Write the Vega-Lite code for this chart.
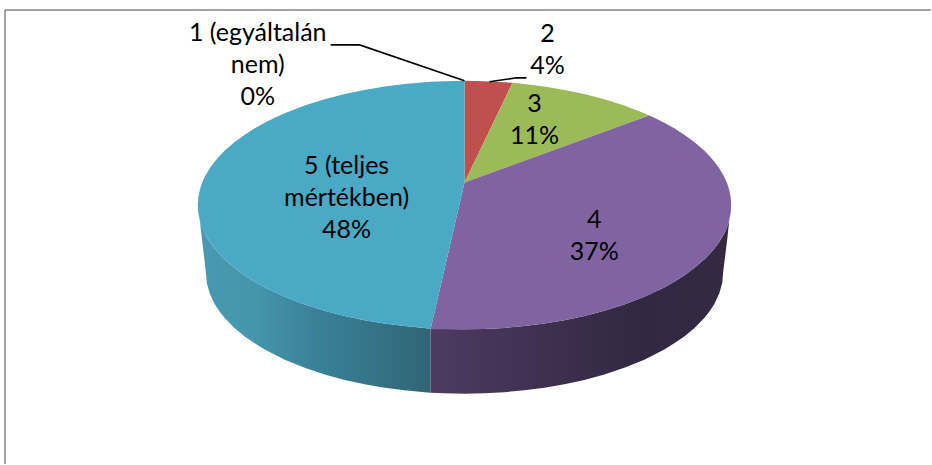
{"$schema":"https://vega.github.io/schema/vega-lite/v6.json","width":932,"height":465,"autosize":{"type":"fit","contains":"padding"},"padding":0,"background":"white","view":{"stroke":null},
"config":{"axis":{"disable":true},"legend":{"disable":true}},
"datasets":{
"top":[
{"slice":"2","px":465,"a":81,"b":183},{"slice":"2","px":485,"a":81.35,"b":141.3},{"slice":"2","px":505,"a":82.4,"b":99.7},{"slice":"2","px":513,"a":83,"b":83},
{"slice":"3","px":465,"a":183,"b":183},{"slice":"3","px":513,"a":83,"b":165.5},{"slice":"3","px":525,"a":84.2,"b":161.2},{"slice":"3","px":545,"a":86.7,"b":153.9},{"slice":"3","px":565,"a":90.1,"b":146.6},{"slice":"3","px":585,"a":94.3,"b":139.3},{"slice":"3","px":605,"a":99.5,"b":132},{"slice":"3","px":625,"a":105.8,"b":124.8},{"slice":"3","px":645,"a":113.5,"b":117.5},{"slice":"3","px":650,"a":115.7,"b":115.7},
{"slice":"4","px":431,"a":330,"b":330},{"slice":"4","px":465,"a":183,"b":330},{"slice":"4","px":485,"a":175.7,"b":329.65},{"slice":"4","px":505,"a":168.4,"b":328.6},{"slice":"4","px":525,"a":161.2,"b":326.8},{"slice":"4","px":545,"a":153.9,"b":324.3},{"slice":"4","px":565,"a":146.6,"b":320.9},{"slice":"4","px":585,"a":139.3,"b":316.7},{"slice":"4","px":605,"a":132,"b":311.5},{"slice":"4","px":625,"a":124.8,"b":305.2},{"slice":"4","px":645,"a":117.5,"b":297.5},{"slice":"4","px":650,"a":115.7,"b":295.7},{"slice":"4","px":655,"a":118,"b":293},{"slice":"4","px":665,"a":123,"b":288},{"slice":"4","px":675,"a":128.6,"b":282.4},{"slice":"4","px":685,"a":135,"b":276},{"slice":"4","px":695,"a":142.3,"b":268.7},{"slice":"4","px":705,"a":150.9,"b":260.1},{"slice":"4","px":710,"a":156,"b":255},{"slice":"4","px":715,"a":161.8,"b":249.2},{"slice":"4","px":720,"a":168.6,"b":242.4},{"slice":"4","px":725,"a":177.2,"b":233.8},{"slice":"4","px":728,"a":184,"b":227},{"slice":"4","px":730,"a":190.3,"b":220.7},{"slice":"4","px":731.5,"a":197.9,"b":213.1},{"slice":"4","px":732,"a":205.5,"b":205.5},
{"slice":"5 (teljes mértékben)","px":198,"a":205.5,"b":205.5},{"slice":"5 (teljes mértékben)","px":198.5,"a":197.9,"b":213.1},{"slice":"5 (teljes mértékben)","px":200,"a":190.3,"b":220.7},{"slice":"5 (teljes mértékben)","px":202,"a":184,"b":227},{"slice":"5 (teljes mértékben)","px":205,"a":177.2,"b":233.8},{"slice":"5 (teljes mértékben)","px":210,"a":168.6,"b":242.4},{"slice":"5 (teljes mértékben)","px":215,"a":161.8,"b":249.2},{"slice":"5 (teljes mértékben)","px":220,"a":156,"b":255},{"slice":"5 (teljes mértékben)","px":225,"a":150.9,"b":260.1},{"slice":"5 (teljes mértékben)","px":235,"a":142.3,"b":268.7},{"slice":"5 (teljes mértékben)","px":245,"a":135,"b":276},{"slice":"5 (teljes mértékben)","px":255,"a":128.6,"b":282.4},{"slice":"5 (teljes mértékben)","px":265,"a":123,"b":288},{"slice":"5 (teljes mértékben)","px":275,"a":118,"b":293},{"slice":"5 (teljes mértékben)","px":285,"a":113.5,"b":297.5},{"slice":"5 (teljes mértékben)","px":305,"a":105.8,"b":305.2},{"slice":"5 (teljes mértékben)","px":325,"a":99.5,"b":311.5},{"slice":"5 (teljes mértékben)","px":345,"a":94.3,"b":316.7},{"slice":"5 (teljes mértékben)","px":365,"a":90.1,"b":320.9},{"slice":"5 (teljes mértékben)","px":385,"a":86.7,"b":324.3},{"slice":"5 (teljes mértékben)","px":405,"a":84.2,"b":326.8},{"slice":"5 (teljes mértékben)","px":425,"a":82.4,"b":328.6},{"slice":"5 (teljes mértékben)","px":431,"a":82,"b":330},{"slice":"5 (teljes mértékben)","px":445,"a":81.35,"b":269.5},{"slice":"5 (teljes mértékben)","px":465,"a":81,"b":183}
],
"wall5":[{"px":199,"a":213,"b":213},{"px":200,"a":220.7,"b":221},{"px":202,"a":227,"b":238},{"px":204,"a":231,"b":255},{"px":206,"a":235.8,"b":272},{"px":207,"a":237.5,"b":283.7},{"px":210,"a":242.4,"b":294.2},{"px":215,"a":249.2,"b":304.8},{"px":220,"a":255,"b":312.4},{"px":225,"a":260.1,"b":318.7},{"px":235,"a":268.7,"b":328.9},{"px":245,"a":276,"b":337.1},{"px":255,"a":282.4,"b":344.1},{"px":265,"a":288,"b":350.2},{"px":285,"a":297.5,"b":360.4},{"px":305,"a":305.2,"b":368.5},{"px":325,"a":311.5,"b":375.2},{"px":345,"a":316.7,"b":380.7},{"px":365,"a":320.9,"b":385.1},{"px":385,"a":324.3,"b":388.6},{"px":405,"a":326.8,"b":391.2},{"px":425,"a":328.6,"b":393},{"px":431,"a":329.5,"b":393.5}],
"wall4":[{"px":431,"a":329.5,"b":393.5},{"px":445,"a":329.65,"b":394.1},{"px":465,"a":330,"b":394.5},{"px":485,"a":329.65,"b":394.1},{"px":505,"a":328.6,"b":393},{"px":525,"a":326.8,"b":391.2},{"px":545,"a":324.3,"b":388.6},{"px":565,"a":320.9,"b":385.1},{"px":585,"a":316.7,"b":380.7},{"px":605,"a":311.5,"b":375.2},{"px":625,"a":305.2,"b":368.5},{"px":645,"a":297.5,"b":360.4},{"px":665,"a":288,"b":350.2},{"px":675,"a":282.4,"b":344.1},{"px":685,"a":276,"b":337.1},{"px":695,"a":268.7,"b":328.9},{"px":705,"a":260.1,"b":318.7},{"px":710,"a":255,"b":312.4},{"px":715,"a":249.2,"b":304.8},{"px":720,"a":242.4,"b":294.2},{"px":723,"a":237.5,"b":283.7},{"px":724,"a":235.8,"b":272},{"px":726,"a":232,"b":256},{"px":728,"a":227,"b":240},{"px":730,"a":220.7,"b":221}],
"leaders":[{"leader":"1","order":1,"px":331,"py":45},{"leader":"1","order":2,"px":360,"py":45},{"leader":"1","order":3,"px":465,"py":81},{"leader":"2","order":1,"px":490,"py":82},{"leader":"2","order":2,"px":517,"py":78},{"leader":"2","order":3,"px":527,"py":78}],
"labels":[{"label":"1 (egyáltalán\nnem)\n0%","px":258,"py":41},{"label":"2\n4%","px":548,"py":42},{"label":"3\n11%","px":535,"py":112},{"label":"4\n37%","px":595,"py":228},{"label":"5 (teljes\nmértékben)\n48%","px":347,"py":174}],
"frame":[{"side":"left","px":5,"py":10,"py2":465},{"side":"top","px":5,"py":10,"px2":932}]
},
"layer":[
{"data":{"name":"frame"},"transform":[{"filter":"datum.side==='left'"}],"mark":{"type":"rule","stroke":"#868686","strokeWidth":1.5},"encoding":{"x":{"field":"px","type":"quantitative","scale":{"domain":[0,932],"nice":false,"zero":false}},"y":{"field":"py","type":"quantitative","scale":{"domain":[465,0],"nice":false,"zero":false}},"y2":{"field":"py2"}}},
{"data":{"name":"frame"},"transform":[{"filter":"datum.side==='top'"}],"mark":{"type":"rule","stroke":"#868686","strokeWidth":1.5},"encoding":{"x":{"field":"px","type":"quantitative"},"x2":{"field":"px2"},"y":{"field":"py","type":"quantitative"}}},
{"data":{"name":"wall5"},"mark":{"type":"area","color":{"gradient":"linear","x1":0,"x2":1,"y1":0,"y2":0,"stops":[{"offset":0,"color":"#4899b1"},{"offset":0.25,"color":"#4595ac"},{"offset":0.5,"color":"#3a8198"},{"offset":1,"color":"#2f6676"}]}},"encoding":{"x":{"field":"px","type":"quantitative"},"y":{"field":"a","type":"quantitative"},"y2":{"field":"b"}}},
{"data":{"name":"wall4"},"mark":{"type":"area","color":{"gradient":"linear","x1":0,"x2":1,"y1":0,"y2":0,"stops":[{"offset":0,"color":"#4d3b62"},{"offset":0.4,"color":"#3e2f4f"},{"offset":0.7,"color":"#322841"},{"offset":1,"color":"#332a42"}]}},"encoding":{"x":{"field":"px","type":"quantitative"},"y":{"field":"a","type":"quantitative"},"y2":{"field":"b"}}},
{"data":{"name":"top"},"mark":{"type":"area"},"encoding":{"x":{"field":"px","type":"quantitative"},"y":{"field":"a","type":"quantitative"},"y2":{"field":"b"},"color":{"field":"slice","type":"nominal","legend":null,"scale":{"domain":["2","3","4","5 (teljes mértékben)"],"range":["#c0504d","#9bbb59","#8064a2","#4aa9c4"]}}}},
{"data":{"name":"leaders"},"mark":{"type":"line","stroke":"#000000","strokeWidth":1.6},"encoding":{"x":{"field":"px","type":"quantitative"},"y":{"field":"py","type":"quantitative"},"detail":{"field":"leader"},"order":{"field":"order","type":"quantitative"}}},
{"data":{"name":"labels"},"mark":{"type":"text","font":"Lato","fontSize":25,"lineBreak":"\n","lineHeight":32,"align":"center","baseline":"alphabetic","color":"#000000"},"encoding":{"x":{"field":"px","type":"quantitative"},"y":{"field":"py","type":"quantitative"},"text":{"field":"label"}}}
]}
